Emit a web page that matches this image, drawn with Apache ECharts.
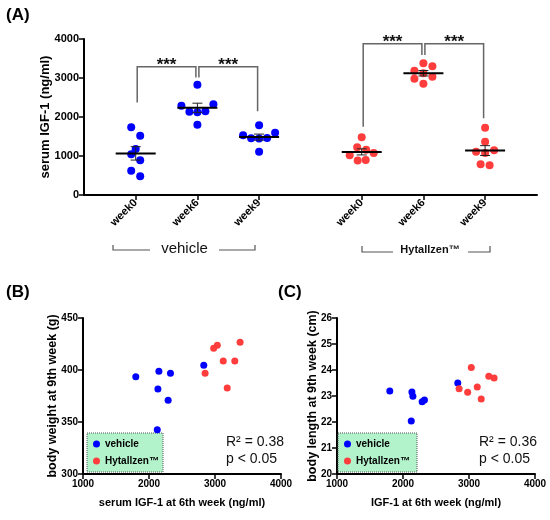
<!DOCTYPE html>
<html>
<head>
<meta charset="utf-8">
<script src="https://cdn.jsdelivr.net/npm/echarts@6/dist/echarts.min.js"></script>
<style>
  html, body { margin: 0; padding: 0; background: #fff; }
  #container { width: 550px; height: 520px; }
</style>
</head>
<body>
<div id="container"></div>
<script>
var FONT = '"Liberation Sans", Arial, sans-serif';
var BLUE = '#0000ff';
var RED = '#ff3d3d';

// panel A: serum IGF-1 (ng/ml) per week
var weeks = ['week0', 'week6', 'week9'];
var vehWeek0 = [1736, 1520, 1179, 1043, 890, 623, 479];
var vehWeek6 = [1800, 2125, 2135, 2150, 2290, 2325, 2830];
var vehWeek9 = [1787, 1597, 1531, 1460, 1455, 1450, 1110];
var hytWeek0 = [1479, 1223, 1162, 1077, 1017, 895, 885];
var hytWeek6 = [2850, 2980, 3035, 3125, 3185, 3300, 3380];
var hytWeek9 = [1726, 1367, 1146, 1110, 1077, 787, 761];

// significance brackets: [fromIdx, toIdx, topValue, fromLegEnd, toLegEnd]
var sigVehicle = [[0, 1, 3290, 2370, 3010], [1, 2, 3290, 3010, 2150]];
var sigHyt = [[0, 1, 3880, 1750, 3590], [1, 2, 3880, 3590, 1970]];

// panels B, C: paired with week6 IGF-1 (same order as vehWeek6 / hytWeek6)
var bwVehicle = [393.6, 342.6, 381.7, 398.7, 370.8, 396.8, 404.5];
var bwHyt = [396.8, 420.8, 423.7, 408.7, 382.7, 408.7, 426.6];
var blVehicle = [23.19, 22.04, 23.15, 22.99, 22.78, 22.85, 23.5];
var blHyt = [23.28, 23.14, 24.10, 23.35, 22.88, 23.76, 23.69];

var statsB = ['R\u00b2 = 0.38', 'p < 0.05'];
var statsC = ['R\u00b2 = 0.36', 'p < 0.05'];

// layout of panel A
var aTop = 39, aHeight = 156, catW = 61.7;
var pxPerY = aHeight / 4000;
var rowH = 9.2;

// scatter-dot layout: points close in height share a row and are spread sideways
function swarm(values, center) {
  var order = values.map(function (v, i) { return i; })
    .sort(function (a, b) { return values[a] - values[b]; });
  var rows = [], row = null, rowY = 0;
  order.forEach(function (i) {
    var y = values[i] * pxPerY;
    if (!row || y - rowY >= rowH) {
      row = [];
      rows.push(row);
      rowY = y;
    }
    row.push(values[i]);
  });
  var out = [];
  rows.forEach(function (r) {
    r.sort(function (a, b) { return b - a; });
    var n = r.length;
    var s = n >= 4 ? 8 : 9;
    var pos = [];
    for (var k = 0; k < n; k++) pos.push((k - (n - 1) / 2) * s);
    var firstSign = n === 2 ? -1 : 1;
    pos.sort(function (a, b) {
      var d = Math.abs(b) - Math.abs(a);
      if (Math.abs(d) > 1e-6) return d;
      return (a * firstSign > 0) ? -1 : 1;
    });
    r.forEach(function (v, j) { out.push([center + pos[j] / catW, v]); });
  });
  return out;
}

function meanSem(arr) {
  var n = arr.length;
  var m = arr.reduce(function (s, v) { return s + v; }, 0) / n;
  var ss = arr.reduce(function (s, v) { return s + (v - m) * (v - m); }, 0);
  return [m, Math.sqrt(ss / (n - 1)) / Math.sqrt(n)];
}

function groupDots(groups) {
  var out = [];
  groups.forEach(function (g, i) { out = out.concat(swarm(g, i)); });
  return out;
}

function groupStats(groups) {
  return groups.map(function (g, i) {
    var ms = meanSem(g);
    return [i, ms[0], ms[1]];
  });
}

function pairs(xs, ys) {
  return xs.map(function (x, i) { return [x, ys[i]]; });
}

function renderMean(params, api) {
  var x = api.value(0), m = api.value(1), s = api.value(2);
  var c = api.coord([x, m]);
  var t = api.coord([x, m + s]);
  var b = api.coord([x, m - s]);
  var st = { stroke: '#222', lineWidth: 1 };
  return {
    type: 'group',
    children: [
      { type: 'line', shape: { x1: c[0], y1: t[1], x2: c[0], y2: b[1] }, style: st },
      { type: 'line', shape: { x1: c[0] - 5, y1: t[1], x2: c[0] + 5, y2: t[1] }, style: st },
      { type: 'line', shape: { x1: c[0] - 5, y1: b[1], x2: c[0] + 5, y2: b[1] }, style: st },
      { type: 'line', shape: { x1: c[0] - 20, y1: c[1], x2: c[0] + 20, y2: c[1] },
        style: { stroke: '#000', lineWidth: 2 } }
    ]
  };
}

function renderSig(params, api) {
  var a = api.coord([api.value(0), api.value(2)]);
  var b = api.coord([api.value(1), api.value(2)]);
  var la = api.coord([api.value(0), api.value(3)]);
  var lb = api.coord([api.value(1), api.value(4)]);
  var xa = a[0] + 1.5, xb = b[0] - 1.5;
  return {
    type: 'group',
    children: [
      { type: 'polyline',
        shape: { points: [[xa, la[1]], [xa, a[1]], [xb, a[1]], [xb, lb[1]]] },
        style: { stroke: '#666', lineWidth: 1.5, fill: null } },
      { type: 'text',
        style: { text: '***', x: (xa + xb) / 2, y: a[1] - 1, align: 'center',
          verticalAlign: 'middle', font: 'bold 17px ' + FONT, fill: '#111' } }
    ]
  };
}

var vehGroups = [vehWeek0, vehWeek6, vehWeek9];
var hytGroups = [hytWeek0, hytWeek6, hytWeek9];

var axisLineStyle = { color: '#000', width: 2 };

function catAxis(gi) {
  return {
    type: 'category', gridIndex: gi, data: weeks,
    axisLine: { show: false },
    axisTick: { show: true, alignWithLabel: true, length: 5, lineStyle: { color: '#000', width: 1.5 } },
    axisLabel: { rotate: 45, margin: 6, color: '#000', fontFamily: FONT, fontWeight: 'bold', fontSize: 11 }
  };
}
function hiddenX(gi) {
  return { type: 'value', gridIndex: gi, min: -0.5, max: 2.5, show: false };
}
function hiddenY(gi) {
  return { type: 'value', gridIndex: gi, min: 0, max: 4000, show: false };
}
function scatterAxis(gi, min, max, interval, name, gap, size, nameSize) {
  return {
    type: 'value', gridIndex: gi, min: min, max: max, interval: interval,
    name: name, nameLocation: 'middle', nameGap: gap, nameMoveOverlap: false,
    nameTextStyle: { color: '#000', fontFamily: FONT, fontWeight: 'bold', fontSize: nameSize },
    axisLine: { show: true, lineStyle: axisLineStyle },
    axisTick: { show: true, length: 5, lineStyle: { color: '#000', width: 1.5 } },
    axisLabel: { color: '#000', fontFamily: FONT, fontWeight: 'bold', fontSize: size, margin: 5,
      formatter: function (v) { return String(v); } },
    splitLine: { show: false }
  };
}

var dom = document.getElementById('container');
var myChart = echarts.init(dom, null, { renderer: 'canvas' });

var legendText = { color: '#000', fontFamily: FONT, fontWeight: 'bold', fontSize: 10 };
function legendAt(left, top) {
  return {
    data: ['vehicle', 'Hytallzen\u2122'], left: left, top: top, orient: 'vertical',
    icon: 'circle', itemWidth: 7, itemHeight: 7, itemGap: 7, padding: 0,
    textStyle: legendText, selectedMode: false
  };
}

var option = {
  animation: false,
  backgroundColor: '#fff',
  grid: [
    { left: 84, top: aTop, width: 453, height: aHeight },
    { left: 135.7 - catW / 2, top: aTop, width: catW * 3, height: aHeight },
    { left: 361.7 - catW / 2, top: aTop, width: catW * 3, height: aHeight },
    { left: 83, top: 318, width: 198, height: 156 },
    { left: 337, top: 318, width: 198, height: 156 }
  ],
  xAxis: [
    { type: 'value', gridIndex: 0, min: 0, max: 1,
      axisLine: { show: true, lineStyle: axisLineStyle },
      axisTick: { show: false }, axisLabel: { show: false }, splitLine: { show: false } },
    catAxis(1), hiddenX(1), catAxis(2), hiddenX(2),
    scatterAxis(3, 1000, 4000, 1000, 'serum IGF-1 at 6th week (ng/ml)', 23, 10, 11),
    scatterAxis(4, 1000, 4000, 1000, 'IGF-1 at 6th week (ng/ml)', 23, 10, 11)
  ],
  yAxis: [
    scatterAxis(0, 0, 4000, 1000, 'serum IGF-1 (ng/ml)', 32, 11, 13),
    hiddenY(1), hiddenY(2),
    scatterAxis(3, 300, 450, 50, 'body weight at 9th week (g)', 23.5, 10, 12.5),
    scatterAxis(4, 20, 26, 1, 'body length at 9th week (cm)', 17.5, 10, 12.5)
  ],
  legend: [legendAt(93, 439), legendAt(344, 439)],
  graphic: [
    { type: 'rect', shape: { x: 87, y: 433, width: 76, height: 39 }, z: 1,
      style: { fill: '#b3f3cc', stroke: '#555', lineWidth: 1, lineDash: [1, 1] } },
    { type: 'rect', shape: { x: 338, y: 433, width: 79, height: 39 }, z: 1,
      style: { fill: '#b3f3cc', stroke: '#555', lineWidth: 1, lineDash: [1, 1] } },
    { type: 'text', x: 6, y: 7, style: { text: '(A)', font: 'bold 17px ' + FONT, fill: '#000' } },
    { type: 'text', x: 6, y: 284, style: { text: '(B)', font: 'bold 17px ' + FONT, fill: '#000' } },
    { type: 'text', x: 278, y: 284, style: { text: '(C)', font: 'bold 17px ' + FONT, fill: '#000' } },
    { type: 'polyline', shape: { points: [[113, 245], [113, 250], [150, 250]] },
      style: { stroke: '#555', lineWidth: 1.2, fill: null } },
    { type: 'polyline', shape: { points: [[219, 250], [255, 250], [255, 245]] },
      style: { stroke: '#555', lineWidth: 1.2, fill: null } },
    { type: 'text', x: 184.5, y: 249,
      style: { text: 'vehicle', font: '15px ' + FONT, fill: '#111', align: 'center', verticalAlign: 'middle' } },
    { type: 'polyline', shape: { points: [[362, 246], [362, 252], [393, 252]] },
      style: { stroke: '#555', lineWidth: 1.2, fill: null } },
    { type: 'polyline', shape: { points: [[468, 252], [490, 252], [490, 246]] },
      style: { stroke: '#555', lineWidth: 1.2, fill: null } },
    { type: 'text', x: 430, y: 250,
      style: { text: 'Hytallzen\u2122', font: 'bold 11px ' + FONT, fill: '#111', align: 'center', verticalAlign: 'middle' } },
    { type: 'text', x: 226, y: 442,
      style: { text: statsB[0], font: '14px ' + FONT, fill: '#111', verticalAlign: 'middle' } },
    { type: 'text', x: 226, y: 459,
      style: { text: statsB[1], font: '14px ' + FONT, fill: '#111', verticalAlign: 'middle' } },
    { type: 'text', x: 479, y: 442,
      style: { text: statsC[0], font: '14px ' + FONT, fill: '#111', verticalAlign: 'middle' } },
    { type: 'text', x: 479, y: 459,
      style: { text: statsC[1], font: '14px ' + FONT, fill: '#111', verticalAlign: 'middle' } }
  ],
  series: [
    { name: 'vehicle', type: 'scatter', xAxisIndex: 2, yAxisIndex: 1, symbolSize: 8,
      itemStyle: { color: BLUE, opacity: 1 }, data: groupDots(vehGroups) },
    { name: 'Hytallzen\u2122', type: 'scatter', xAxisIndex: 4, yAxisIndex: 2, symbolSize: 8,
      itemStyle: { color: RED, opacity: 1 }, data: groupDots(hytGroups) },
    { type: 'custom', xAxisIndex: 2, yAxisIndex: 1, z: 5, renderItem: renderMean,
      encode: { x: 0, y: 1 }, data: groupStats(vehGroups) },
    { type: 'custom', xAxisIndex: 4, yAxisIndex: 2, z: 5, renderItem: renderMean,
      encode: { x: 0, y: 1 }, data: groupStats(hytGroups) },
    { type: 'custom', xAxisIndex: 2, yAxisIndex: 1, z: 5, renderItem: renderSig,
      encode: { x: 0, y: 2 }, data: sigVehicle },
    { type: 'custom', xAxisIndex: 4, yAxisIndex: 2, z: 5, renderItem: renderSig,
      encode: { x: 0, y: 2 }, data: sigHyt },
    { name: 'vehicle', type: 'scatter', xAxisIndex: 5, yAxisIndex: 3, symbolSize: 7,
      itemStyle: { color: BLUE, opacity: 1 }, data: pairs(vehWeek6, bwVehicle) },
    { name: 'Hytallzen\u2122', type: 'scatter', xAxisIndex: 5, yAxisIndex: 3, symbolSize: 7,
      itemStyle: { color: RED, opacity: 1 }, data: pairs(hytWeek6, bwHyt) },
    { name: 'vehicle', type: 'scatter', xAxisIndex: 6, yAxisIndex: 4, symbolSize: 7,
      itemStyle: { color: BLUE, opacity: 1 }, data: pairs(vehWeek6, blVehicle) },
    { name: 'Hytallzen\u2122', type: 'scatter', xAxisIndex: 6, yAxisIndex: 4, symbolSize: 7,
      itemStyle: { color: RED, opacity: 1 }, data: pairs(hytWeek6, blHyt) }
  ]
};

if (option && typeof option === 'object') {
  myChart.setOption(option, true);
}
</script>
</body>
</html>
